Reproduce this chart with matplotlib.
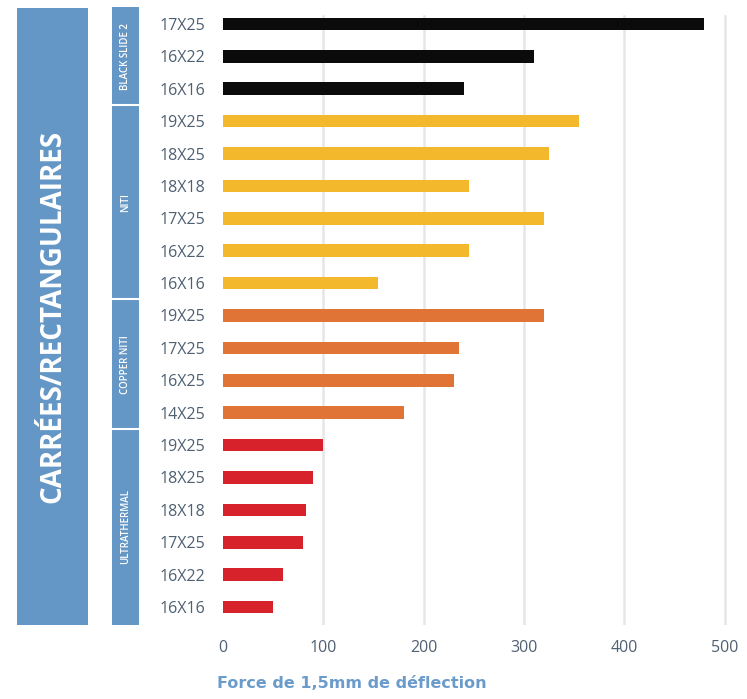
import numpy as np
import matplotlib
matplotlib.use('Agg')
from matplotlib import pyplot as plt

# data
groups = ['BLACK SLIDE 2', 'NITI', 'COPPER NITI', 'ULTRATHERMAL']
black_sizes = ['17X25', '16X22', '16X16']
black_vals = [480, 310, 240]
niti_sizes = ['19X25', '18X25', '18X18', '17X25', '16X22', '16X16']
niti_vals = [355, 325, 245, 320, 245, 155]
copper_sizes = ['19X25', '17X25', '16X25', '14X25']
copper_vals = [320, 235, 230, 180]
ultra_sizes = ['19X25', '18X25', '18X18', '17X25', '16X22', '16X16']
ultra_vals = [100, 90, 83, 80, 60, 50]
group_colors = ['#0b0b0b', '#f3b82b', '#e07436', '#d8222b']
xticks = [0, 100, 200, 300, 400, 500]

sizes = [black_sizes, niti_sizes, copper_sizes, ultra_sizes]
vals = [black_vals, niti_vals, copper_vals, ultra_vals]

labels = []
values = []
colors = []
for s, v, c in zip(sizes, vals, group_colors):
    labels += s
    values += v
    colors += [c] * len(v)
pos = np.arange(len(values))

blue = '#6497c6'
txt = '#4f6072'
plt.rcParams['font.family'] = ['Open Sans', 'DejaVu Sans']

W, H = 747, 699
fig = plt.figure(figsize=(W / 100, H / 100), dpi=100)

def box(x0, y0, x1, y1):
    return [x0 / W, 1 - y1 / H, (x1 - x0) / W, (y1 - y0) / H]

ax = fig.add_axes(box(223, 7, 738, 625))
ax.barh(pos, values, height=0.39, color=colors)
ax.set_xlim(0, 515 / 1.003)
ax.set_ylim(len(values) - 1 + 0.556, -0.525)
for t in xticks[1:]:
    ax.axvline(t, ymin=0, ymax=0.985, color='#e6e6e6', lw=1.8, zorder=0)
ax.set_yticks(pos, labels)
ax.set_xticks(xticks, [str(t) for t in xticks])
ax.tick_params(axis='y', length=0, pad=29, labelsize=11.5, labelcolor=txt)
ax.tick_params(axis='x', length=0, pad=11, labelsize=11.5, labelcolor=txt)
for lab in ax.get_yticklabels():
    lab.set_horizontalalignment('center')
for sp in ax.spines.values():
    sp.set_visible(False)

# group band
band = fig.add_axes(box(112, 7, 139, 625), sharey=ax)
band.set_facecolor(blue)
band.set_xlim(0, 1)
start = 0
for g, s in zip(groups, sizes):
    end = start + len(s)
    if start > 0:
        band.axhline(start - 0.5, color='white', lw=1.5)
    band.text(0.5, (start + end - 1) / 2, g, rotation=90, ha='center', va='center',
              color='white', fontsize=7, fontweight='semibold')
    start = end
band.tick_params(left=False, bottom=False, labelleft=False, labelbottom=False)
for sp in band.spines.values():
    sp.set_visible(False)

# big title box
big = fig.add_axes(box(17, 8, 88, 625))
big.set_facecolor(blue)
big.text(0.5, 0.5, 'CARRÉES/RECTANGULAIRES', rotation=90, ha='center', va='center',
         color='white', fontsize=20, fontweight='bold', transform=big.transAxes)
big.set_xticks([])
big.set_yticks([])
for sp in big.spines.values():
    sp.set_visible(False)

fig.text(217 / W, 1 - 684 / H, 'Force de 1,5mm de déflection', ha='left', va='center',
         color='#6a9bcb', fontsize=11.5, fontweight='bold', family=['DejaVu Sans'])

fig.savefig('out.png', dpi=100)
